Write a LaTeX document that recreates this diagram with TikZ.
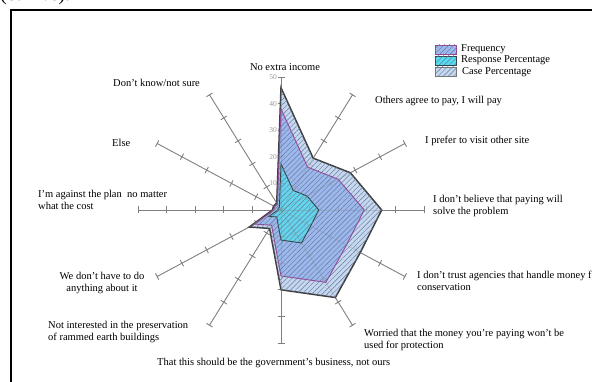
\documentclass[tikz,border=0pt]{standalone}
\usepackage{fontspec}
\setmainfont{Liberation Serif}
\usetikzlibrary{calc,patterns.meta}

\definecolor{casefill}{RGB}{198,216,238}
\definecolor{freqfill}{RGB}{156,184,236}
\definecolor{respfill}{RGB}{100,214,236}
\definecolor{hatchc}{RGB}{100,120,160}
\definecolor{freqline}{RGB}{150,72,150}
\definecolor{caseline}{RGB}{64,64,64}
\definecolor{respline}{RGB}{50,70,72}
\definecolor{axisgray}{RGB}{128,128,128}

\tikzset{
  lbl/.style={inner sep=0pt, align=left, anchor=west},
  axisline/.style={draw=axisgray, line width=0.8pt},
  hatched/.style={postaction={pattern={Lines[angle=45,distance=3.6pt,line width=0.45pt]}, pattern color=hatchc}},
  casepoly/.style={fill=casefill, draw=caseline, line width=1.5pt, line join=miter, hatched},
  freqpoly/.style={fill=freqfill, draw=freqline, line width=0.9pt, line join=miter, hatched},
  resppoly/.style={fill=respfill, draw=respline, line width=0.9pt, line join=miter, hatched},
  legbox/.style={minimum width=21pt, minimum height=9pt, inner sep=0pt, line width=0.9pt, hatched},
  ticklbl/.style={anchor=east, inner sep=0pt, text=axisgray!80, font=\fontsize{7.5}{8}\selectfont}
}

\newcommand\radaraxes[1]{%
  \foreach \a in {90,60,30,0,-30,-60,-90,-120,-150,180,150,120}{
    \draw[axisline,#1] (0,0) -- (\a:50);
    \foreach \v in {10,20,30,40,50}
      \draw[axisline,#1] ($(\a:\v)!3.5pt!90:(0,0)$) -- ($(\a:\v)!3.5pt!-90:(0,0)$);
  }}

\begin{document}
\begin{tikzpicture}[x=1pt,y=-1pt, font=\fontsize{10.5}{12}\selectfont]
\useasboundingbox (0,0) rectangle (592,382);
\fill[white] (0,0) rectangle (592,382);
\node[anchor=base west, inner sep=0pt, font=\fontsize{20}{24}\selectfont] (toptext) at (0,1) {(8.27\%).};
\draw[line width=1.6pt] (11,420) -- (11,10) -- (640,10);
\coordinate (O) at (281,210);

\begin{scope}[shift={(O)}, x=2.86pt, y=2.66pt]
  \radaraxes{}
  \draw[casepoly] (90:46) -- (60:22.5) -- (30:28) -- (0:35.2) -- (-30:32) -- (-60:38) -- (-90:30) -- (-120:8) -- (-150:12.8) -- (180:3) -- (150:3) -- (120:3) -- cycle;
  \draw[freqpoly] (90:38) -- (60:18.6) -- (30:23.1) -- (0:29.1) -- (-30:26.4) -- (-60:31.4) -- (-90:24.8) -- (-120:6.6) -- (-150:10.6) -- (180:2.5) -- (150:2.5) -- (120:2.5) -- cycle;
  \draw[resppoly] (90:17.3) -- (60:8.5) -- (30:10.5) -- (0:13.2) -- (-30:12) -- (-60:14.3) -- (-90:11.3) -- (-120:3) -- (-150:4.8) -- (180:1.1) -- (150:1.1) -- (120:1.1) -- cycle;
  \radaraxes{opacity=0.3}
  \foreach \v in {10,20,30,40,50}
    \node[ticklbl] (tl\v) at ($(90:\v)+(-4pt,0)$) {\v};
\end{scope}

% axis labels
\node[inner sep=0pt] (l1) at (285,67) {No extra income};
\node[lbl] (l2) at (375,101) {Others agree to pay, I will pay};
\node[lbl] (l3) at (425,141) {I prefer to visit other site};
\node[lbl] (l4) at (433,206) {I don't believe that paying will\\solve the problem};
\node[lbl] (l5) at (417,281) {I don't trust agencies that handle money for\\conservation};
\node[lbl] (l6) at (364,340) {Worried that the money you're paying won't be\\used for protection};
\node[lbl] (l7) at (157,363) {That this should be the government's business, not ours};
\node[lbl] (l8) at (48,332) {Not interested in the preservation\\of rammed earth buildings};
\node[inner sep=0pt, align=center] (l9) at (102,283) {We don't have to do\\anything about it};
\node[lbl] (l10) at (38,200) {I'm against the plan\ \ no matter\\what the cost};
\node[lbl] (l11) at (112,143) {Else};
\node[lbl] (l12) at (113,83) {Don't know/not sure};

% legend
\node[legbox, fill=freqfill, draw=freqline] (lb1) at (445.5,49.5) {};
\node[legbox, fill=respfill!85!cyan, draw=respline] (lb2) at (445.5,60.5) {};
\node[legbox, fill=casefill, draw=caseline!70] (lb3) at (445.5,71.5) {};
\node[lbl] (lt1) at (461,49) {Frequency};
\node[lbl] (lt2) at (461,60.5) {Response Percentage};
\node[lbl] (lt3) at (462,72) {Case Percentage};
\end{tikzpicture}
\end{document}
